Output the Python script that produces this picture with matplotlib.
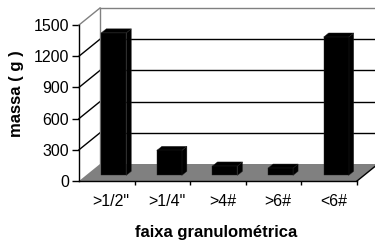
import numpy as np
import matplotlib.pyplot as plt
from matplotlib.patches import Polygon

plt.rcParams['font.family'] = ['Liberation Sans', 'DejaVu Sans']

# data
categories = ['>1/2"', '>1/4"', '>4#', '>6#', '<6#']
massa = [1370, 240, 90, 70, 1330]
yticks = [0, 300, 600, 900, 1200, 1500]

fig = plt.figure(figsize=(3.75, 2.42), dpi=100)
W, H = 375, 242
ax = fig.add_axes([79 / W, 61 / H, 278 / W, 156 / H])
ax.set_xlim(-0.5, 4.5)
ax.set_ylim(0, 1500)

# depth offset of the fake 3d box, in data units
dx = 21 / (278 / 5)
dy = 17 / (156 / 1500)
x0, x1 = -0.5, 4.5
gray = '#808080'

# floor
ax.add_patch(Polygon([(x0, 0), (x1, 0), (x1 + dx, dy), (x0 + dx, dy)],
                     closed=True, facecolor=gray, edgecolor='none',
                     clip_on=False, zorder=1))
ax.plot([x1, x1 + dx], [0, dy], color='black', lw=1, clip_on=False, zorder=2)

# walls and gridlines
for v in yticks[1:]:
    c = gray if v == 1500 else 'black'
    ax.plot([x0, x0 + dx], [v, v + dy], color=c, lw=1, clip_on=False, zorder=2)
    ax.plot([x0 + dx, x1 + dx], [v + dy, v + dy], color=c, lw=1,
            clip_on=False, zorder=2)
ax.plot([x0 + dx, x0 + dx], [dy, 1500 + dy], color=gray, lw=1,
        clip_on=False, zorder=2)

# 3d-looking bars
w = 0.45
f = 0.33
b = 0.24
for i, v in enumerate(massa):
    bx = i - w / 2 + f * dx
    by = f * dy
    front = [(bx, by), (bx + w, by), (bx + w, by + v), (bx, by + v)]
    top = [(bx, by + v), (bx + w, by + v),
           (bx + w + b * dx, by + v + b * dy), (bx + b * dx, by + v + b * dy)]
    side = [(bx + w, by), (bx + w + b * dx, by + b * dy),
            (bx + w + b * dx, by + v + b * dy), (bx + w, by + v)]
    for pts in (side, top, front):
        ax.add_patch(Polygon(pts, closed=True, facecolor='black',
                             edgecolor='#222222', lw=0.3, clip_on=False,
                             zorder=3))

for s in ['top', 'right']:
    ax.spines[s].set_visible(False)
for s in ['left', 'bottom']:
    ax.spines[s].set_zorder(4)
    ax.spines[s].set_linewidth(1)

ax.set_yticks(yticks)
ax.tick_params(axis='y', direction='out', length=5, width=1, pad=2,
               labelsize=11.5)
ax.set_xticks(np.arange(0.5, 5, 1))
ax.set_xticklabels([])
ax.tick_params(axis='x', which='major', direction='out', length=3, width=1)
ax.set_xticks(np.arange(5) + 0.08, minor=True)
ax.set_xticklabels(categories, minor=True)
ax.tick_params(axis='x', which='minor', length=0, pad=9, labelsize=11.5)
ax.set_facecolor('none')

fig.text(17 / W, 1 - 94 / H, 'massa ( g )', rotation=90, ha='center',
         va='center', fontsize=12, fontweight='bold')
fig.text(216 / W, 1 - 233 / H, 'faixa granulométrica', ha='center',
         va='center', fontsize=12, fontweight='bold')

fig.savefig('out.png', dpi=100)
